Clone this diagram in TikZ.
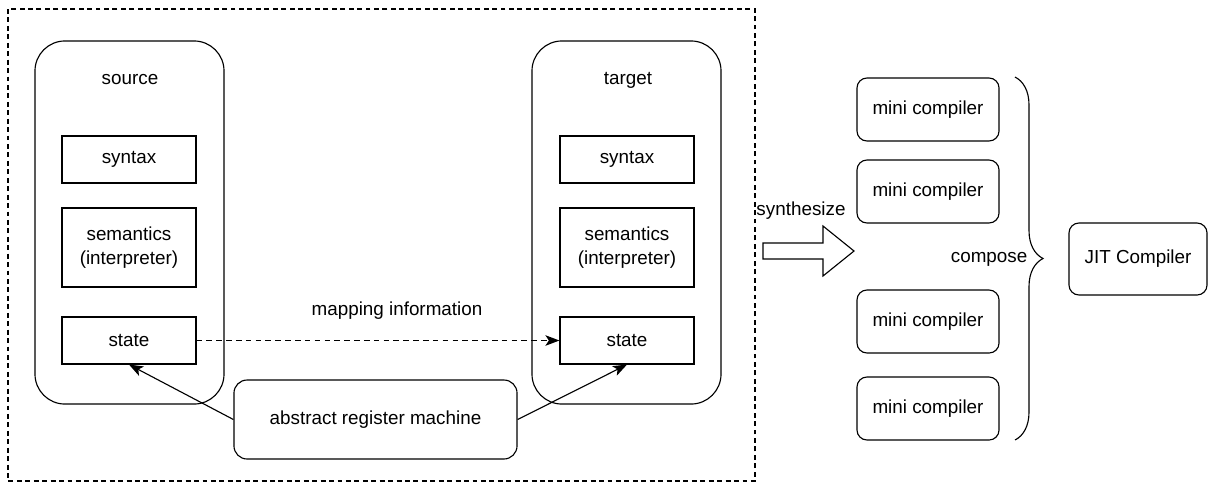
\documentclass[tikz,border=0pt]{standalone}
\usepackage{fontspec}
\setmainfont{Liberation Sans}
\usetikzlibrary{positioning}
\usetikzlibrary{arrows.meta}
\usetikzlibrary{decorations.pathreplacing}
\tikzset{
    lang/.style = {rectangle, rounded corners=0.75cm, thick, draw=black, minimum width=4.725cm, minimum height=9.075cm},
    part/.style = {rectangle, thick, draw=black, align=center, minimum width=3.35cm, minimum height=1.175cm},
    mini/.style = {rectangle, rounded corners=0.25cm, thick, draw=black, minimum width=3.55cm, minimum height=1.575cm},
    plain/.style = {inner sep=1pt, align=center},
    edgen/.style = {-{Stealth[length=10pt,width=7.5pt,inset=2.5pt]},thick},
    edged/.style = {-{Stealth[length=10pt,width=7.5pt,inset=2.5pt]},thick,dash pattern=on 4pt off 3pt}, % mapping
    frame/.style = {thick,dash pattern=on 3.5pt off 2.5pt},
    bigarrow/.style = {thick,draw=black,fill=white},
    every picture/.style={font issue=\fontsize{13.4}{17}},
    font issue/.style={execute at begin picture={#1\selectfont}}
}

\begin{document}
\begin{tikzpicture}[x=0.025cm,y=-0.025cm]
\useasboundingbox (0,0) rectangle (1208,483);
\draw[frame] (8,9) rectangle (755,481);
%
\node[lang] at (129.5,222.5) (src) {};
\node[lang] at (626.5,222.5) (tgt) {};
\node[plain] at (130,80) (srcname) {source};
\node[plain] at (628,80) (tgtname) {target};
\node[part] at (129,159.5) (ssyn) {syntax};
\node[part, minimum height=1.975cm] at (129,247.5) (ssem) {semantics\\(interpreter)};
\node[part] at (129,340.5) (sstate) {state};
\node[part] at (627,159.5) (tsyn) {syntax};
\node[part, minimum height=1.975cm] at (627,247.5) (tsem) {semantics\\(interpreter)};
\node[part] at (627,340.5) (tstate) {state};
\node[mini, rounded corners=0.33cm, minimum width=7.075cm, minimum height=1.975cm] at (375.5,419.5) (arm) {abstract register machine};
%
\draw[edgen] (arm.west) -- (sstate.south);
\draw[edgen] (arm.east) -- (tstate.south);
\draw[edged] (sstate.east) -- (tstate.west);
\node[plain] at (397,311) (mapinfo) {mapping information};
%
\node[plain] at (801,211) (synth) {synthesize};
\draw[bigarrow] (763,243) -- (823,243) -- (823,226) -- (854,251) -- (823,276) -- (823,259) -- (763,259) -- cycle;
%
\node[mini] at (928,109.5) (mc1) {mini compiler};
\node[mini] at (928,191.5) (mc2) {mini compiler};
\node[mini] at (928,321.5) (mc3) {mini compiler};
\node[mini] at (928,408.5) (mc4) {mini compiler};
\draw[thick,decorate,decoration={brace,amplitude=0.7cm}] (1015,77) -- (1015,440);
\node[plain, anchor=east] at (1029,259) (compose) {compose};
\node[mini, minimum width=3.45cm, minimum height=1.8cm] at (1138,259) (jit) {JIT Compiler};
\end{tikzpicture}
\end{document}
